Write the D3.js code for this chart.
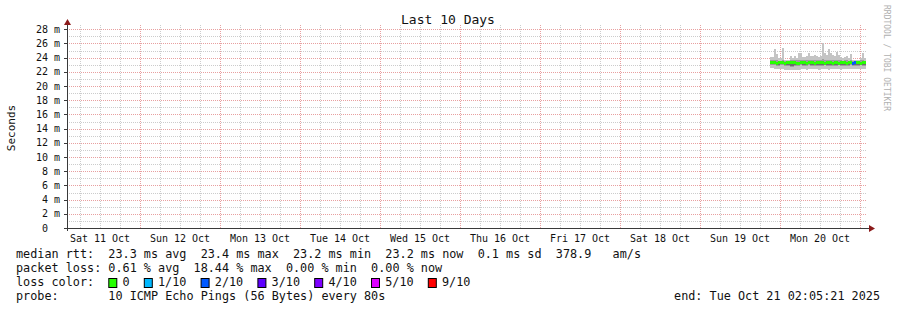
<!DOCTYPE html>
<html>
<head>
<meta charset="utf-8">
<script src="https://cdn.jsdelivr.net/npm/d3@7"></script>
<style>
  body { margin: 0; background: #fff; }
  svg text { font-family: "DejaVu Sans Mono", monospace; white-space: pre; }
</style>
</head>
<body>
<svg id="chart" width="897" height="310"></svg>
<script>
// time window of the graph
const rangeStart = new Date(2025, 9, 11, 2, 5, 21);
const rangeEnd = new Date(2025, 9, 21, 2, 5, 21);

// probe samples (36 min buckets) starting Sun 19 Oct 21:00
const dataStart = new Date(2025, 9, 19, 21, 0, 0);
const stepMinutes = 36;
const medianMs = [23.3,23.3,23.3,23.2,23.3,23.3,23.3,23.2,23.3,23.3,23.3,23.3,23.3,23.2,23.2,23.3,
                  23.3,23.3,23.2,23.3,23.3,23.3,23.2,23.3,23.3,23.3,23.3,23.2,23.3,23.3,23.3,23.2,
                  23.3,23.3,23.2,23.3,23.3,23.3,23.2,23.3,23.3,23.2,23.3,23.3,23.3,23.2,23.3,23.3];
const pingMax = [24.1,24.1,25.2,24.5,23.9,23.9,25.3,23.6,23.6,23.7,24.2,24.0,24.2,24.0,24.6,24.6,
                 24.1,24.1,24.3,24.6,24.2,24.2,24.4,24.2,24.1,24.3,26.1,24.6,24.4,25.2,24.6,24.4,
                 24.2,24.8,24.4,24.1,24.0,24.1,24.2,23.9,24.5,23.6,23.7,23.6,23.7,24.0,24.6,23.9];
const pingHigh = [23.6,23.6,23.7,23.6,23.5,23.5,23.7,23.5,23.5,23.5,23.6,23.6,23.7,23.6,23.7,23.7,
                  23.6,23.6,23.7,23.7,23.6,23.6,23.7,23.6,23.6,23.6,23.8,23.7,23.7,23.7,23.6,23.6,
                  23.6,23.7,23.6,23.6,23.5,23.6,23.6,23.5,23.6,23.5,23.5,23.5,23.5,23.6,23.6,23.5];
const pingLow = [22.9,22.9,22.9,22.8,22.8,22.9,22.9,22.8,22.8,22.8,22.7,22.7,22.8,22.8,22.8,22.9,
                 22.8,22.8,22.8,22.9,22.8,22.8,22.8,22.8,22.8,22.8,22.8,22.9,22.8,22.8,22.8,22.8,
                 22.8,22.8,22.9,22.8,22.8,22.8,22.8,22.8,22.9,22.8,22.8,22.8,22.8,22.9,22.8,22.8];
const pingMin = [22.5,22.5,22.4,22.4,22.4,22.4,22.4,22.3,22.3,22.3,22.2,22.2,22.2,22.3,22.3,22.4,
                 22.4,22.4,22.3,22.4,22.4,22.4,22.4,22.4,22.3,22.4,22.4,22.4,22.4,22.3,22.4,22.4,
                 22.4,22.4,22.4,22.3,22.4,22.4,22.4,22.4,22.4,22.4,22.4,22.4,22.4,22.4,22.4,22.4];
const lossTenths = [0,0,0,0,0,0,0,0,0,0,0,0,0,0,0,0,0,0,0,0,0,0,0,0,0,0,0,0,0,0,0,0,
                    0,0,0,0,0,0,0,0,0,2,2,0,0,0,0,0];

// legend
const lossLabels = ["0", "1/10", "2/10", "3/10", "4/10", "5/10", "9/10"];
const lossColors = ["#26ff00", "#00b8ff", "#0059ff", "#5e00ff", "#7e00ff", "#dd00ff", "#ff0000"];
const yTicks = [0, 2, 4, 6, 8, 10, 12, 14, 16, 18, 20, 22, 24, 26, 28];
const statLines = [
  "median rtt:  23.3 ms avg  23.4 ms max  23.2 ms min  23.2 ms now  0.1 ms sd  378.9   am/s",
  "packet loss: 0.61 % avg  18.44 % max  0.00 % min  0.00 % now",
  "loss color:",
  "probe:       10 ICMP Echo Pings (56 Bytes) every 80s"
];
const endLabel = "end: Tue Oct 21 02:05:21 2025";

const svg = d3.select('#chart');
const plotLeft = 67, plotRight = 867, plotTop = 25, plotBottom = 228;
const charW = 7.1;

const x = d3.scaleTime().domain([rangeStart, rangeEnd]).range([plotLeft, plotRight]);
const y = d3.scaleLinear().domain([0, 28.6]).range([plotBottom, plotTop]);

const samples = medianMs.map((m, i) => ({
  t0: d3.timeMinute.offset(dataStart, i * stepMinutes),
  t1: d3.timeMinute.offset(dataStart, (i + 1) * stepMinutes),
  med: m, max: pingMax[i], hi: pingHigh[i], lo: pingLow[i], min: pingMin[i], loss: lossTenths[i]
}));

// grid: minor first, majors on top
const grid = svg.append('g');
const minorColor = '#cccccc', majorColor = '#e8a0a0';
function hLine(v, color) {
  const py = Math.round(y(v)) + 0.5;
  grid.append('path').attr('d', `M${plotLeft},${py}H${plotRight - 1}`)
    .attr('stroke', color).attr('stroke-width', 1).attr('stroke-dasharray', '1,1').attr('fill', 'none');
}
function vLine(t, color) {
  const px = Math.round(x(t)) + 0.5;
  grid.append('path').attr('d', `M${px},${plotTop}V${plotBottom}`)
    .attr('stroke', color).attr('stroke-width', 1).attr('stroke-dasharray', '1,1').attr('fill', 'none');
}
d3.range(1, 29, 2).forEach(v => hLine(v, minorColor));
x.ticks(d3.timeHour.every(6)).filter(t => t.getHours() !== 0).forEach(t => vLine(t, minorColor));
d3.range(2, 29, 2).forEach(v => hLine(v, majorColor));
d3.timeDay.range(rangeStart, rangeEnd).forEach(t => vLine(t, majorColor));

// smoke
const plot = svg.append('g').attr('shape-rendering', 'crispEdges');
plot.selectAll('rect.outer').data(samples).join('rect')
  .attr('x', d => x(d.t0)).attr('width', d => x(d.t1) - x(d.t0))
  .attr('y', d => y(d.max)).attr('height', d => y(d.min) - y(d.max))
  .attr('fill', '#c4c4c4');
plot.selectAll('rect.inner').data(samples).join('rect')
  .attr('x', d => x(d.t0)).attr('width', d => x(d.t1) - x(d.t0))
  .attr('y', d => y(d.hi)).attr('height', d => y(d.lo) - y(d.hi))
  .attr('fill', '#9c9c9c');
plot.selectAll('rect.dark').data(samples).join('rect')
  .attr('x', d => x(d.t0)).attr('width', d => x(d.t1) - x(d.t0))
  .attr('y', d => y(d.med)).attr('height', d => Math.max(0, y(d.lo) - y(d.med) - 1))
  .attr('fill', '#6c6c6c');
// median coloured by loss
plot.selectAll('line.med').data(samples).join('line')
  .attr('x1', d => x(d.t0)).attr('x2', d => x(d.t1))
  .attr('y1', d => y(d.med)).attr('y2', d => y(d.med))
  .attr('stroke', d => lossColors[lossLabels.indexOf(d.loss === 0 ? "0" : d.loss + "/10")])
  .attr('stroke-width', 3);

// axes
const axisColor = '#3a3a3a', arrowColor = '#8b1a1a';
svg.append('line').attr('x1', plotLeft + 0.5).attr('x2', plotLeft + 0.5).attr('y1', plotBottom + 3).attr('y2', 22)
  .attr('stroke', axisColor);
svg.append('line').attr('x1', plotLeft - 3).attr('x2', 870).attr('y1', plotBottom + 0.5).attr('y2', plotBottom + 0.5)
  .attr('stroke', axisColor);
svg.append('path').attr('d', `M${plotLeft - 3},25 L${plotLeft + 0.5},19 L${plotLeft + 4},25 Z`).attr('fill', arrowColor);
svg.append('path').attr('d', `M869,${plotBottom - 3} L875,${plotBottom + 0.5} L869,${plotBottom + 4} Z`).attr('fill', arrowColor);

yTicks.forEach(v => {
  svg.append('line').attr('x1', plotLeft - 3).attr('x2', plotLeft)
    .attr('y1', Math.round(y(v)) + 0.5).attr('y2', Math.round(y(v)) + 0.5).attr('stroke', axisColor);
  svg.append('text').attr('x', 60).attr('y', y(v) + 3.5)
    .attr('text-anchor', 'end').attr('font-size', 10).attr('fill', '#111')
    .text(v === 0 ? '0  ' : v + ' m');
});

d3.timeDay.range(d3.timeDay.floor(rangeStart), rangeEnd).forEach(d => {
  const noon = d3.timeHour.offset(d, 12);
  if (noon < rangeStart || noon > rangeEnd) return;
  svg.append('text').attr('x', x(noon)).attr('y', 241.5)
    .attr('text-anchor', 'middle').attr('font-size', 10).attr('fill', '#111')
    .text(d3.timeFormat('%a %d %b')(d));
});

svg.append('text').attr('x', 448).attr('y', 24).attr('text-anchor', 'middle')
  .attr('font-size', 13).attr('fill', '#111').text('Last 10 Days');
svg.append('text').attr('transform', 'translate(15,128) rotate(-90)')
  .attr('text-anchor', 'middle').attr('font-size', 11).attr('fill', '#111').text('Seconds');
svg.append('text').attr('transform', 'translate(884,5) rotate(90)')
  .attr('font-size', 8).attr('fill', '#b0b0b0').text('RRDTOOL / TOBI OETIKER');

// legend
statLines.forEach((s, i) => {
  svg.append('text').attr('x', 16).attr('y', 258 + i * 14)
    .attr('font-size', 11.8).attr('fill', '#111').text(s);
});
const lossStart = [13, 18, 26, 34, 42, 50, 58];
lossLabels.forEach((l, i) => {
  const bx = 16 + lossStart[i] * charW;
  svg.append('rect').attr('x', bx + 0.5).attr('y', 278.5).attr('width', 8).attr('height', 9)
    .attr('fill', lossColors[i]).attr('stroke', '#000');
  svg.append('text').attr('x', bx + 2 * charW).attr('y', 286)
    .attr('font-size', 11.8).attr('fill', '#111').text(l);
});
svg.append('text').attr('x', 880).attr('y', 300).attr('text-anchor', 'end')
  .attr('font-size', 11.8).attr('fill', '#111').text(endLabel);
</script>
</body>
</html>
